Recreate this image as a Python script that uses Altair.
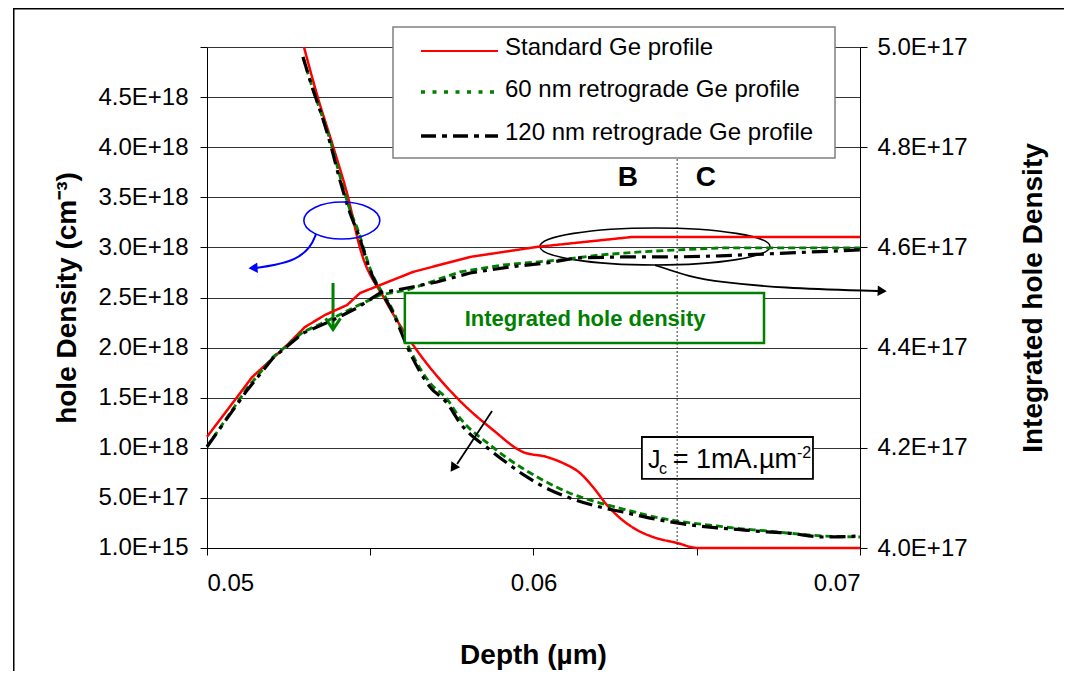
import altair as alt
import pandas as pd

FONT = "Liberation Sans"

# ---------------- data ----------------
series_names = ["Standard Ge profile", "60 nm retrograde Ge profile", "120 nm retrograde Ge profile"]
series_colors = ["#ff0000", "#008000", "#000000"]

# hole density (left axis, cm^-3)
std_hole_depth = [0.05297, 0.0534, 0.05386, 0.05432, 0.05469, 0.05545, 0.05637, 0.05766, 0.05876,
                  0.05968, 0.06041, 0.0609, 0.06142, 0.06182, 0.06225, 0.06265, 0.06317, 0.06366,
                  0.0644, 0.06501, 0.07]
std_hole = [5.0e18, 4.49e18, 4.01e18, 3.50e18, 2.99e18, 2.48e18, 2.00e18, 1.497e18, 1.178e18,
            0.958e18, 0.908e18, 0.848e18, 0.749e18, 0.609e18, 0.429e18, 0.299e18, 0.180e18, 0.110e18,
            0.050e18, 0.001e18, 0.001e18]

retro_hole_depth = [0.05294, 0.05325, 0.05346, 0.05377, 0.05407, 0.05438, 0.05462, 0.05499, 0.0557,
                    0.05622, 0.05683, 0.05735, 0.05775, 0.05867, 0.05919, 0.0598, 0.06051, 0.06103,
                    0.06204, 0.06274, 0.06387, 0.0644, 0.06562, 0.06611, 0.06715, 0.06776, 0.06887, 0.07]
hole_60 = [4.90e18, 4.571e18, 4.371e18, 4.072e18, 3.713e18, 3.373e18, 3.174e18, 2.794e18, 2.365e18,
           1.976e18, 1.647e18, 1.487e18, 1.297e18, 1.028e18, 0.898e18, 0.768e18, 0.639e18, 0.559e18,
           0.449e18, 0.389e18, 0.299e18, 0.269e18, 0.220e18, 0.200e18, 0.170e18, 0.150e18, 0.120e18, 0.110e18]
hole_120 = [4.90e18, 4.571e18, 4.371e18, 4.042e18, 3.673e18, 3.343e18, 3.144e18, 2.774e18, 2.345e18,
            1.946e18, 1.607e18, 1.447e18, 1.248e18, 0.978e18, 0.848e18, 0.709e18, 0.579e18, 0.509e18,
            0.409e18, 0.359e18, 0.279e18, 0.250e18, 0.200e18, 0.190e18, 0.160e18, 0.150e18, 0.110e18, 0.120e18]

# integrated hole density (right axis)
std_int_depth = [0.05, 0.05092, 0.05138, 0.05239, 0.053, 0.05361, 0.05429, 0.05469, 0.05631,
                 0.05806, 0.06011, 0.06305, 0.07]
std_int = [4.222e17, 4.301e17, 4.341e17, 4.401e17, 4.441e17, 4.465e17, 4.485e17, 4.509e17, 4.551e17,
           4.581e17, 4.601e17, 4.621e17, 4.621e17]
r60_int_depth = [0.05, 0.05123, 0.05202, 0.05294, 0.05386, 0.05459, 0.0553, 0.05613, 0.05775,
                 0.05907, 0.06081, 0.06204, 0.06326, 0.0644, 0.06571, 0.07]
r60_int = [4.202e17, 4.319e17, 4.381e17, 4.431e17, 4.459e17, 4.483e17, 4.505e17, 4.515e17, 4.551e17,
           4.565e17, 4.575e17, 4.585e17, 4.591e17, 4.595e17, 4.599e17, 4.599e17]
r120_int_depth = [0.05, 0.05123, 0.05202, 0.05294, 0.05386, 0.05459, 0.0553, 0.05613, 0.05704,
                  0.05806, 0.05928, 0.06041, 0.06133, 0.06274, 0.0644, 0.06571, 0.07]
r120_int = [4.202e17, 4.315e17, 4.379e17, 4.429e17, 4.455e17, 4.479e17, 4.509e17, 4.519e17, 4.531e17,
            4.549e17, 4.561e17, 4.569e17, 4.579e17, 4.581e17, 4.581e17, 4.583e17, 4.595e17]

# axis ticks
x_ticks = [0.05, 0.055, 0.06, 0.065, 0.07]
left_ticks = [1e15, 5e17, 1e18, 1.5e18, 2e18, 2.5e18, 3e18, 3.5e18, 4e18, 4.5e18, 5e18]
right_ticks = [4.0e17, 4.2e17, 4.4e17, 4.6e17, 4.8e17, 5.0e17]

# annotations (depth, hole-density coordinates)
b_c_labels = ["B", "C"]
b_c_depth = [0.06289, 0.06528]
b_c_hole = [3.693e18, 3.693e18]
boundary_depth = 0.0644
boundary_top = 3.922e18

# ---------------- build tables ----------------
def mk(depths, vals, name, col):
    return pd.DataFrame({"depth": depths, col: vals, "series": name, "i": range(len(depths))})

hole_df = pd.concat([mk(std_hole_depth, std_hole, series_names[0], "hole"),
                     mk(retro_hole_depth, hole_60, series_names[1], "hole"),
                     mk(retro_hole_depth, hole_120, series_names[2], "hole")])
int_df = pd.concat([mk(std_int_depth, std_int, series_names[0], "integ"),
                    mk(r60_int_depth, r60_int, series_names[1], "integ"),
                    mk(r120_int_depth, r120_int, series_names[2], "integ")])

xs = alt.Scale(domain=[0.05, 0.07], nice=False, zero=False)
yls = alt.Scale(domain=[0, 5e18], nice=False, zero=False)
yrs = alt.Scale(domain=[4e17, 5e17], nice=False, zero=False)

X_AX = alt.Axis(title="Depth (µm)", values=x_ticks,
                labelExpr="abs(datum.value*100 - round(datum.value*100)) < 0.001 ? format(datum.value, '.2f') : ''",
                tickSize=7, tickColor="black", domainColor="black", grid=False,
                labelFont=FONT, labelFontSize=24, labelColor="black", labelPadding=16,
                titleFont=FONT, titleFontSize=28, titleFontWeight="bold", titleColor="black",
                titleX=326, titleY=115, titleAlign="center", titleBaseline="alphabetic")
YL_AX = alt.Axis(title="hole Density (cm⁻³)", values=left_ticks,
                 labelExpr="datum.value > 4.9e18 ? '' : upper(format(datum.value, '.1e'))",
                 tickSize=7, tickColor="black", domainColor="black",
                 grid=True, gridColor="#333333", gridWidth=1,
                 labelFont=FONT, labelFontSize=24, labelColor="black", labelPadding=12,
                 titleFont=FONT, titleFontSize=28, titleFontWeight="bold", titleColor="black",
                 titleAngle=270, titleX=-132, titleY=250.5, titleAlign="center", titleBaseline="alphabetic")
YR_AX = alt.Axis(title="Integrated hole Density", orient="right", values=right_ticks,
                 labelExpr="upper(format(datum.value, '.1e'))",
                 tickSize=7, tickColor="black", domainColor="black", grid=False,
                 labelFont=FONT, labelFontSize=24, labelColor="black", labelPadding=10,
                 titleFont=FONT, titleFontSize=28, titleFontWeight="bold", titleColor="black",
                 titleAngle=270, titleX=181, titleY=250.5, titleAlign="center", titleBaseline="alphabetic")

color = alt.Color("series:N", scale=alt.Scale(domain=series_names, range=series_colors), legend=None)

one = pd.DataFrame({"k": [0]})

X = alt.X("depth:Q", scale=xs)
Y = alt.Y("hole:Q", scale=yls)

# outer frame (top and left edges drawn as thin filled bands; the rest runs off the picture)
frame_top = alt.Chart(one).mark_rect(fill="black", strokeWidth=0).encode(
    x=alt.value(-194), x2=alt.value(870), y=alt.value(-39), y2=alt.value(-37.5))
frame_left = alt.Chart(one).mark_rect(fill="black", strokeWidth=0).encode(
    x=alt.value(-194), x2=alt.value(-192.5), y=alt.value(-39), y2=alt.value(640))

# boxes
gbox_df = pd.DataFrame({"depth": [0.05606], "depth2": [0.06706], "hole": [2.545e18], "hole2": [2.046e18]})
green_box = alt.Chart(gbox_df).mark_rect(fill="white", stroke="#008000", strokeWidth=2.5).encode(
    x=X, x2="depth2:Q", y=Y, y2="hole2:Q")
jbox_df = pd.DataFrame({"depth": [0.06332], "depth2": [0.06856], "hole": [1.108e18], "hole2": [0.689e18]})
jc_box = alt.Chart(jbox_df).mark_rect(fill="white", stroke="black", strokeWidth=1.8).encode(
    x=X, x2="depth2:Q", y=Y, y2="hole2:Q")

# boundary dotted line
bnd_df = pd.DataFrame({"depth": [boundary_depth], "hole": [boundary_top], "hole2": [0.0]})
boundary = alt.Chart(bnd_df).mark_rule(color="#333333", strokeWidth=1, strokeDash=[2, 2]).encode(
    x=X, y=Y, y2="hole2:Q")

# hole density lines
hole_lines = alt.Chart(hole_df).mark_line(interpolate="monotone").encode(
    x=alt.X("depth:Q", scale=xs, axis=X_AX),
    y=alt.Y("hole:Q", scale=yls, axis=YL_AX),
    color=color,
    strokeDash=alt.StrokeDash("series:N", scale=alt.Scale(domain=series_names,
                              range=[[1, 0], [7, 4], [16, 6, 4, 6]]), legend=None),
    strokeWidth=alt.StrokeWidth("series:N", scale=alt.Scale(domain=series_names, range=[2.5, 3.2, 3.5]),
                                legend=None),
    order="i:Q")

# integrated lines (right axis)
int_lines = alt.Chart(int_df).mark_line().encode(
    x=X,
    y=alt.Y("integ:Q", scale=yrs, axis=YR_AX),
    color=color,
    strokeDash=alt.StrokeDash("series:N", scale=alt.Scale(domain=series_names,
                              range=[[1, 0], [3, 4], [10, 4, 3, 4]]), legend=None),
    strokeWidth=alt.StrokeWidth("series:N", scale=alt.Scale(domain=series_names, range=[1.6, 2.2, 2.0]),
                                legend=None),
    order="i:Q")

# ellipses
def ellipse_path(r):
    return f"M -1 0 A 1 {r} 0 1 0 1 0 A 1 {r} 0 1 0 -1 0 Z"

blue_ell = alt.Chart(pd.DataFrame({"depth": [0.05413], "hole": [3.268e18]})).mark_point(
    shape=ellipse_path(0.487), size=5776, filled=False, stroke="#0000ff", strokeWidth=1.6, opacity=1).encode(
    x=X, y=Y)
black_ell = alt.Chart(pd.DataFrame({"depth": [0.06372], "hole": [3.009e18]})).mark_point(
    shape=ellipse_path(0.161), size=52900, filled=False, stroke="black", strokeWidth=1.6, opacity=1).encode(
    x=X, y=Y)

# arrows
blue_arrow_df = pd.DataFrame({"depth": [0.05334, 0.05317, 0.05270, 0.05208, 0.05150],
                              "hole": [3.134e18, 2.994e18, 2.874e18, 2.824e18, 2.794e18], "i": range(5)})
blue_arrow = alt.Chart(blue_arrow_df).mark_line(color="#0000ff", strokeWidth=2, interpolate="basis").encode(
    x=X, y=Y, order="i:Q")

black_arrow_df = pd.DataFrame({"depth": [0.06372, 0.06479, 0.06571, 0.06755, 0.07055],
                               "hole": [2.824e18, 2.705e18, 2.655e18, 2.595e18, 2.565e18], "i": range(5)})
black_arrow = alt.Chart(black_arrow_df).mark_line(color="black", strokeWidth=1.8, interpolate="basis").encode(
    x=X, y=Y, order="i:Q")

cross_arrow_df = pd.DataFrame({"depth": [0.05873, 0.05766], "hole": [1.367e18, 0.838e18], "i": [0, 1]})
cross_arrow = alt.Chart(cross_arrow_df).mark_line(color="black", strokeWidth=1.8).encode(
    x=X, y=Y, order="i:Q")

green_arrow_df = pd.DataFrame({"depth": [0.05386, 0.05386], "hole": [2.645e18, 2.186e18], "i": [0, 1]})
green_arrow = alt.Chart(green_arrow_df).mark_line(color="#008000", strokeWidth=3).encode(
    x=X, y=Y, order="i:Q")
green_head = alt.Chart(pd.DataFrame({"depth": [0.05386], "hole": [2.236e18]})).mark_point(
    shape="M -1 -0.75 L 0 0.75 L 1 -0.75", size=220, filled=False, stroke="#008000", strokeWidth=3,
    opacity=1).encode(x=X, y=Y)

heads_df = pd.DataFrame({"depth": [0.05141, 0.07068, 0.05754],
                         "hole": [2.794e18, 2.565e18, 0.798e18],
                         "ang": [266, 92, 214],
                         "col": ["#0000ff", "black", "black"]})
heads = alt.Chart(heads_df).mark_point(shape="triangle-up", filled=True, size=110, opacity=1).encode(
    x=X, y=Y, angle=alt.Angle("ang:Q", scale=None), color=alt.Color("col:N", scale=None))

# texts
bc_text = alt.Chart(pd.DataFrame({"depth": b_c_depth, "hole": b_c_hole, "t": b_c_labels})).mark_text(
    font=FONT, fontSize=28, fontWeight="bold", color="black", align="center", baseline="middle").encode(
    x=X, y=Y, text="t:N")
green_text = alt.Chart(pd.DataFrame({"depth": [0.06158], "hole": [2.285e18], "t": ["Integrated hole density"]})).mark_text(
    font=FONT, fontSize=22, fontWeight="bold", color="#008000", align="center", baseline="middle").encode(
    x=X, y=Y, text="t:N")

def txt(depth, hole, t, size, align):
    return alt.Chart(pd.DataFrame({"depth": [depth], "hole": [hole], "t": [t]})).mark_text(
        font=FONT, fontSize=size, color="black", align=align, baseline="alphabetic").encode(
        x=X, y=Y, text="t:N")

jc_J = txt(0.06351, 0.798e18, "J", 25, "left")
jc_c = txt(0.06384, 0.739e18, "c", 16, "left")
jc_main = txt(0.06807, 0.798e18, "= 1mA.µm", 27, "right")
jc_sup = txt(0.06807, 0.898e18, "-2", 16, "left")

# legend (manual, Excel style box)
leg_box = alt.Chart(one).mark_rect(fill="white", stroke="#808080", strokeWidth=1.5).encode(
    x=alt.value(186), x2=alt.value(628), y=alt.value(-20), y2=alt.value(111))
leg_dashes = [[1, 0], [4, 7.5], [15, 6, 5, 6]]
leg_widths = [2, 3.5, 3.5]
leg_y_line = [4, 45, 89]
leg_y_text = [0.5, 43, 86]
leg_layers = []
for k in range(3):
    leg_layers.append(alt.Chart(one).mark_rule(color=series_colors[k], strokeWidth=leg_widths[k],
                                               strokeDash=leg_dashes[k]).encode(
        x=alt.value(214), x2=alt.value(291), y=alt.value(leg_y_line[k])))
    leg_layers.append(alt.Chart(one).mark_text(text=series_names[k], font=FONT, fontSize=24, color="black",
                                               align="left", baseline="middle").encode(
        x=alt.value(298), y=alt.value(leg_y_text[k])))

left_group = alt.layer(hole_lines, frame_top, frame_left, green_box, jc_box, boundary, blue_ell, black_ell,
                       blue_arrow, black_arrow, cross_arrow, green_arrow, green_head, heads,
                       bc_text, green_text, jc_J, jc_c, jc_main, jc_sup, leg_box, *leg_layers)
right_group = alt.layer(int_lines)

chart = alt.layer(left_group, right_group).resolve_scale(y="independent").properties(
    width=653, height=501,
    autosize=alt.AutoSizeParams(type="none"),
    padding={"left": 199, "top": 39, "right": 204, "bottom": 123},
).configure_view(stroke=None)

chart.save("out.html", embed_options={"renderer": "svg", "actions": False})
